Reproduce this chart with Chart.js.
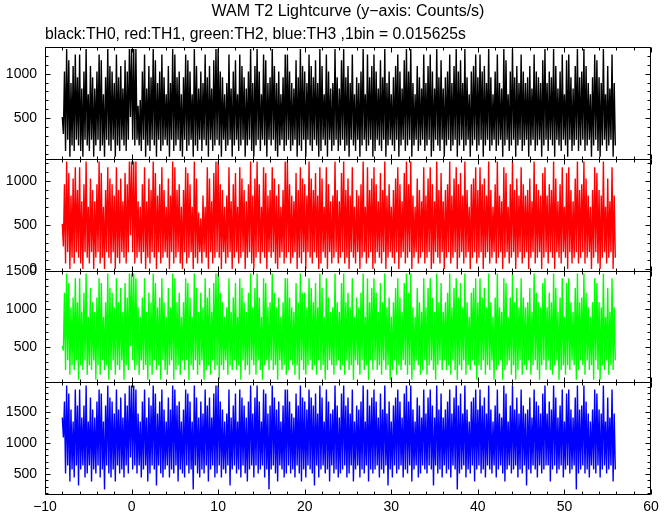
<!DOCTYPE html>
<html>
<head>
<meta charset="utf-8">
<title>WAM T2 Lightcurve</title>
<script src="https://cdn.jsdelivr.net/npm/chart.js@4.4.1/dist/chart.umd.min.js"></script>
<style>
  html, body { margin: 0; padding: 0; background: #fff; }
  #wrap { width: 672px; height: 515px; }
</style>
</head>
<body>
<div id="wrap"><canvas id="lightcurve"></canvas></div>
<script>
// Samples every 0.125 s, alternating the high and the low of each slot.
const binSize = 0.015625;
const tStart = -8;
const tStep = 0.125;

const th0Counts = [
  8,5, 16,2, 20,4, 18,1, 14,3, 17,2, 19,4, 15,3,
  19,2, 13,1, 16,4, 20,3, 12,2, 17,4, 15,1, 13,3,
  16,4, 19,2, 18,3, 12,1, 15,4, 20,3, 17,2, 16,4,
  14,1, 19,3, 15,2, 17,4, 13,3, 18,2, 16,4, 20,8,
  20,4, 20,3, 20,4, 10,3, 11,2, 16,4, 19,1, 13,3,
  17,2, 15,4, 20,3, 18,1, 14,4, 16,2, 19,3, 15,4,
  12,3, 17,1, 14,4, 20,2, 19,3, 15,4, 16,2, 12,1,
  15,4, 19,2, 18,3, 16,4, 12,1, 20,3, 17,2, 13,4,
  16,2, 14,4, 19,3, 15,1, 17,4, 13,2, 18,3, 20,4,
  20,3, 16,1, 15,4, 12,2, 14,3, 19,4, 13,1, 16,3,
  18,4, 12,2, 19,3, 17,4, 15,1, 13,3, 16,4, 20,2,
  14,1, 17,3, 20,4, 16,2, 12,4, 19,3, 18,1, 14,4,
  15,3, 20,4, 17,2, 14,1, 16,3, 12,4, 15,2, 19,3,
  19,4, 16,2, 14,3, 13,4, 18,1, 15,3, 20,2, 17,4,
  16,1, 14,4, 19,3, 17,2, 15,4, 18,3, 14,1, 20,2,
  17,4, 12,3, 19,1, 16,4, 13,2, 14,3, 20,4, 15,2,
  13,3, 18,4, 20,2, 15,3, 17,1, 14,4, 19,3, 12,2,
  15,4, 14,1, 16,3, 20,4, 12,2, 19,3, 15,4, 17,1,
  19,2, 16,4, 13,3, 18,2, 15,4, 20,1, 14,3, 16,4,
  12,3, 15,2, 17,4, 19,1, 16,3, 13,4, 18,2, 20,3,
  16,4, 20,1, 14,3, 12,4, 17,2, 15,3, 13,4, 19,2,
  14,3, 17,4, 19,1, 16,2, 13,4, 20,3, 15,2, 18,4,
  13,1, 15,3, 16,4, 19,2, 14,3, 17,4, 20,1, 16,3,
  18,4, 14,2, 20,3, 15,4, 12,1, 16,3, 17,4, 19,2,
  15,3, 19,4, 16,1, 17,3, 14,4, 20,2, 15,3, 12,4,
  16,2, 19,3, 14,4, 13,1, 20,3, 18,4, 12,2, 16,3,
  20,4, 15,1, 17,3, 14,4, 19,2, 16,3, 14,4, 15,1,
  17,3, 13,4, 19,2, 16,3, 15,4, 14,1, 18,3, 20,4,
  14,2, 16,4, 15,3, 20,1, 17,4, 13,3, 16,2, 19,4,
  12,3, 18,1, 19,4, 15,2, 13,3, 17,4, 20,2, 15,3,
  16,4, 20,2, 17,3, 14,4, 12,1, 15,3, 19,4, 18,2,
  15,1, 14,3, 20,4, 12,2, 17,3, 13,4, 19,1, 14,3
];

const th1Counts = [
  8,4, 15,1, 19,3, 17,0, 13,2, 16,1, 18,3, 14,2,
  18,1, 12,0, 15,3, 19,2, 11,1, 16,3, 14,0, 12,2,
  15,3, 19,1, 17,2, 11,0, 14,3, 18,2, 16,1, 15,3,
  13,0, 18,2, 14,1, 16,3, 12,2, 17,1, 15,3, 19,6,
  19,3, 19,1, 19,2, 12,3, 11,1, 15,3, 18,0, 12,2,
  16,1, 14,3, 19,2, 17,0, 13,3, 15,1, 18,2, 14,3,
  11,2, 16,0, 13,3, 19,1, 18,2, 14,3, 15,1, 11,0,
  14,3, 18,1, 17,2, 15,3, 11,0, 19,2, 16,1, 10,3,
  9,1, 13,3, 11,2, 18,0, 16,3, 12,1, 17,2, 19,3,
  19,2, 15,0, 14,3, 11,1, 13,2, 18,3, 12,0, 15,2,
  17,3, 11,1, 18,2, 16,3, 14,0, 12,2, 15,3, 19,1,
  13,0, 16,2, 19,3, 15,1, 11,3, 18,2, 17,0, 13,3,
  14,2, 18,3, 16,1, 13,0, 15,2, 11,3, 14,1, 19,2,
  19,3, 15,1, 13,2, 12,3, 17,0, 14,2, 18,1, 16,3,
  15,0, 13,3, 19,2, 16,1, 14,3, 17,2, 13,0, 18,1,
  16,3, 11,2, 18,0, 15,3, 12,1, 13,2, 19,3, 14,1,
  12,2, 17,3, 19,1, 14,2, 16,0, 13,3, 18,2, 11,1,
  14,3, 13,0, 15,2, 19,3, 11,1, 18,2, 14,3, 16,0,
  18,1, 15,3, 12,2, 17,1, 14,3, 19,0, 13,2, 15,3,
  11,2, 14,1, 16,3, 18,0, 15,2, 12,3, 17,1, 19,2,
  15,3, 19,0, 13,2, 11,3, 16,1, 14,2, 12,3, 18,1,
  13,2, 16,3, 18,0, 15,1, 12,3, 19,2, 14,1, 17,3,
  12,0, 14,2, 15,3, 19,1, 13,2, 16,3, 18,0, 15,2,
  17,3, 13,1, 19,2, 14,3, 11,0, 15,2, 16,3, 18,1,
  14,2, 18,3, 15,0, 16,2, 13,3, 19,1, 14,2, 11,3,
  15,1, 19,2, 13,3, 12,0, 18,2, 17,3, 11,1, 15,2,
  19,3, 14,0, 16,2, 13,3, 18,1, 15,2, 13,3, 14,0,
  16,2, 12,3, 19,1, 15,2, 14,3, 13,0, 17,2, 18,3,
  13,1, 15,3, 14,2, 19,0, 16,3, 12,2, 15,1, 18,3,
  11,2, 17,0, 18,3, 14,1, 12,2, 16,3, 19,1, 14,2,
  15,3, 19,1, 16,2, 13,3, 11,0, 14,2, 18,3, 17,1,
  14,0, 13,2, 19,3, 11,1, 16,2, 12,3, 18,0, 13,2
];

const th2Counts = [
  8,7, 19,3, 23,5, 21,2, 16,4, 18,3, 22,5, 17,1,
  22,4, 15,3, 19,5, 23,2, 14,4, 20,3, 17,5, 15,1,
  18,4, 22,2, 21,5, 14,3, 17,4, 23,1, 20,3, 19,5,
  16,2, 22,4, 17,3, 20,5, 15,1, 21,4, 18,3, 23,8,
  23,5, 23,3, 22,4, 16,2, 14,5, 18,3, 22,4, 15,1,
  19,4, 17,2, 23,5, 21,3, 16,4, 18,1, 22,5, 17,3,
  14,2, 20,4, 16,5, 23,1, 22,3, 17,4, 19,2, 14,5,
  17,3, 22,5, 21,1, 18,4, 14,3, 23,5, 20,2, 15,4,
  19,5, 16,1, 22,3, 18,4, 20,2, 15,5, 21,3, 23,4,
  23,1, 19,4, 17,3, 14,5, 16,2, 22,4, 15,3, 18,5,
  21,3, 14,4, 22,1, 20,5, 17,3, 15,4, 19,2, 23,5,
  16,4, 20,2, 23,5, 18,3, 14,1, 22,4, 21,5, 16,3,
  17,5, 23,3, 19,4, 16,1, 18,5, 14,3, 17,4, 22,2,
  22,3, 18,5, 16,4, 15,2, 21,4, 17,1, 23,5, 19,3,
  19,2, 16,4, 22,5, 20,3, 17,4, 21,2, 16,5, 23,3,
  20,4, 14,1, 22,3, 18,5, 15,4, 16,2, 23,4, 17,5,
  15,3, 21,4, 23,2, 17,5, 19,3, 16,4, 22,1, 14,5,
  18,4, 16,2, 19,5, 23,3, 14,4, 22,1, 17,5, 20,3,
  22,5, 19,3, 15,4, 21,2, 17,5, 23,3, 16,4, 18,1,
  14,3, 17,5, 20,2, 22,4, 18,3, 15,5, 21,4, 23,2,
  19,4, 23,1, 16,3, 14,5, 20,4, 17,2, 15,3, 22,5,
  16,2, 20,4, 22,5, 18,3, 15,1, 23,4, 17,5, 21,3,
  15,5, 17,3, 19,4, 23,2, 16,5, 20,3, 22,1, 18,4,
  21,3, 16,5, 23,2, 17,4, 14,3, 19,5, 20,4, 22,1,
  17,4, 22,3, 18,5, 20,2, 16,4, 23,3, 17,5, 14,1,
  18,3, 23,4, 16,5, 15,1, 22,3, 21,4, 14,5, 18,2,
  23,4, 17,1, 20,3, 16,5, 22,2, 18,4, 16,3, 17,5,
  20,2, 15,4, 23,5, 19,3, 17,1, 16,4, 21,5, 22,3,
  16,5, 19,3, 17,2, 23,4, 20,5, 15,1, 18,3, 22,4,
  14,2, 21,4, 22,3, 17,5, 15,4, 20,1, 23,3, 17,5,
  18,4, 23,2, 19,5, 16,3, 14,4, 17,1, 22,5, 21,3,
  17,1, 16,4, 23,3, 14,5, 20,2, 15,4, 22,3, 16,5
];

const th3Counts = [
  22,17, 26,8, 30,10, 28,6, 24,9, 21,7, 29,10, 25,5,
  29,9, 22,10, 25,7, 30,8, 21,10, 27,6, 24,9, 22,8,
  26,10, 29,7, 28,9, 21,4, 25,10, 30,8, 27,7, 26,9,
  23,6, 29,10, 24,8, 27,9, 22,7, 28,10, 25,8, 30,12,
  30,9, 30,10, 29,8, 23,10, 21,7, 26,9, 29,10, 22,6,
  27,8, 25,10, 30,9, 28,5, 23,10, 26,8, 29,7, 24,9,
  21,10, 27,7, 24,9, 30,8, 29,10, 25,6, 26,9, 21,8,
  24,7, 29,10, 28,8, 26,9, 21,4, 30,10, 27,8, 22,7,
  26,9, 23,8, 29,10, 25,6, 27,9, 22,10, 28,7, 30,8,
  30,10, 26,7, 24,9, 21,8, 23,10, 29,5, 22,9, 25,10,
  28,8, 21,9, 29,7, 27,10, 25,8, 22,6, 26,9, 30,10,
  23,7, 27,10, 30,8, 26,9, 21,10, 29,7, 28,9, 23,4,
  25,9, 30,10, 27,8, 24,6, 26,10, 21,9, 25,7, 29,8,
  29,10, 26,8, 23,9, 22,7, 28,10, 25,8, 30,6, 27,9,
  26,7, 24,10, 29,9, 27,8, 25,5, 28,10, 23,7, 30,9,
  27,10, 21,8, 29,9, 26,6, 23,10, 24,8, 30,9, 25,7,
  22,8, 28,9, 30,10, 25,7, 27,8, 23,10, 29,6, 21,9,
  25,10, 24,7, 26,9, 30,8, 21,10, 29,6, 25,9, 27,8,
  29,9, 26,10, 22,7, 28,9, 24,8, 30,10, 23,5, 26,9,
  21,7, 25,10, 27,8, 29,9, 26,10, 22,7, 28,9, 30,8,
  26,10, 30,6, 24,9, 21,10, 27,7, 25,8, 22,10, 29,9,
  23,8, 27,10, 29,9, 25,5, 22,10, 30,8, 24,9, 28,7,
  22,10, 24,8, 26,9, 29,7, 23,10, 27,9, 30,4, 25,8,
  28,9, 23,10, 30,7, 24,9, 21,8, 26,10, 27,6, 29,9,
  24,10, 29,8, 25,9, 27,7, 23,10, 30,9, 24,8, 21,10,
  25,7, 29,9, 23,10, 22,8, 30,6, 28,9, 21,10, 25,8,
  30,9, 24,10, 27,7, 23,9, 29,8, 25,10, 23,5, 24,9,
  27,8, 22,10, 29,9, 26,7, 25,10, 23,8, 28,9, 30,10,
  23,10, 26,6, 24,9, 30,10, 27,8, 22,9, 25,10, 29,7,
  21,9, 28,10, 29,8, 24,9, 22,10, 27,4, 30,8, 24,9,
  25,10, 30,8, 26,9, 23,7, 21,10, 24,9, 29,8, 28,10,
  24,7, 23,9, 30,10, 21,8, 27,9, 22,10, 29,6, 23,9
];

// panel order top to bottom, with y ranges read from the frames
const seriesNames = ['TH0', 'TH1', 'TH2', 'TH3'];
const seriesCounts = [th0Counts, th1Counts, th2Counts, th3Counts];
const seriesColors = ['#000000', '#ff0000', '#00ff00', '#0000ff'];
const yMin = [41, -16, 30, 182];
const yMax = [1301, 1248, 1510, 1973];
const yTicks = [[500, 1000], [0, 500, 1000], [500, 1000, 1500], [500, 1000, 1500]];
const xTicks = [-10, 0, 10, 20, 30, 40, 50, 60];

const FONT = "'Liberation Sans', Arial, Helvetica, sans-serif";
Chart.defaults.font.family = FONT;
Chart.defaults.font.size = 14;
Chart.defaults.color = '#000';

function toPoints(counts) {
  return counts.map((c, i) => ({ x: tStart + i * tStep, y: c / binSize }));
}

const axisIds = seriesNames.map((n, i) => 'y' + i);

const datasets = seriesNames.map((name, i) => ({
  label: name,
  data: toPoints(seriesCounts[i]),
  yAxisID: axisIds[i],
  borderColor: seriesColors[i],
  borderWidth: 1.4,
  borderJoinStyle: 'bevel',
  pointRadius: 0,
  tension: 0,
  fill: false
}));

const scales = {
  x: {
    type: 'linear',
    position: 'bottom',
    min: -10,
    max: 60,
    afterBuildTicks: s => { s.ticks = xTicks.map(v => ({ value: v })); },
    afterFit: s => { s.height = 21; },
    grid: { display: false, drawTicks: false },
    border: { display: false },
    ticks: {
      padding: 5,
      maxRotation: 0,
      autoSkip: false,
      callback: v => String(v).replace('-', '\u2212')
    }
  }
};

// y axes stacked; the last one declared ends up at the top
for (let i = axisIds.length - 1; i >= 0; i--) {
  const tickValues = yTicks[i];
  scales[axisIds[i]] = {
    type: 'linear',
    position: 'left',
    stack: 'panels',
    stackWeight: 1,
    min: yMin[i],
    max: yMax[i],
    afterBuildTicks: s => { s.ticks = tickValues.map(v => ({ value: v })); },
    afterFit: s => { s.width = 45; },
    grid: { display: false, drawTicks: false },
    border: { display: false },
    ticks: {
      padding: 8,
      autoSkip: false,
      callback: v => String(v)
    }
  };
}

// frames and inward tick marks of each panel, like the original plot
const panelFrames = {
  id: 'panelFrames',
  afterDatasetsDraw(chart) {
    const { ctx, chartArea, scales } = chart;
    const xs = scales.x;
    const left = Math.round(chartArea.left) + 0.5;
    const right = Math.round(chartArea.right) - 0.5;
    ctx.save();
    ctx.strokeStyle = '#000';
    ctx.lineWidth = 1;
    axisIds.forEach(id => {
      const ys = scales[id];
      const top = Math.round(ys.top) + 0.5;
      const bottom = Math.round(ys.bottom) + 0.5;
      ctx.beginPath();
      ctx.rect(left, top, right - left, bottom - top);
      for (let v = Math.ceil(ys.min / 100) * 100; v <= ys.max; v += 100) {
        const y = Math.round(ys.getPixelForValue(v)) + 0.5;
        const len = v % 500 === 0 ? 5 : 3;
        ctx.moveTo(left, y); ctx.lineTo(left + len, y);
        ctx.moveTo(right, y); ctx.lineTo(right - len, y);
      }
      for (let v = xs.min; v <= xs.max; v += 2) {
        const x = Math.round(xs.getPixelForValue(v)) + 0.5;
        const len = v % 10 === 0 ? 5 : 3;
        ctx.moveTo(x, top); ctx.lineTo(x, top + len);
        ctx.moveTo(x, bottom); ctx.lineTo(x, bottom - len);
      }
      ctx.stroke();
    });
    ctx.restore();
  }
};

new Chart(document.getElementById('lightcurve'), {
  type: 'line',
  data: { datasets: datasets },
  options: {
    responsive: true,
    maintainAspectRatio: false,
    animation: false,
    devicePixelRatio: 1,
    layout: { padding: { top: 0, right: 21, bottom: 0, left: 0 } },
    scales: scales,
    plugins: {
      legend: { display: false },
      tooltip: { enabled: false },
      title: {
        display: true,
        text: 'WAM T2 Lightcurve (y\u2212axis: Counts/s)',
        fullSize: false,
        color: '#000',
        font: { size: 16, weight: 'normal' },
        padding: { top: 2, bottom: 4 }
      },
      subtitle: {
        display: true,
        text: 'black:TH0, red:TH1, green:TH2, blue:TH3 ,1bin = 0.015625s',
        align: 'start',
        fullSize: false,
        color: '#000',
        font: { size: 15.7, weight: 'normal' },
        padding: { top: 0, bottom: 3 }
      }
    }
  },
  plugins: [panelFrames]
});
</script>
</body>
</html>
